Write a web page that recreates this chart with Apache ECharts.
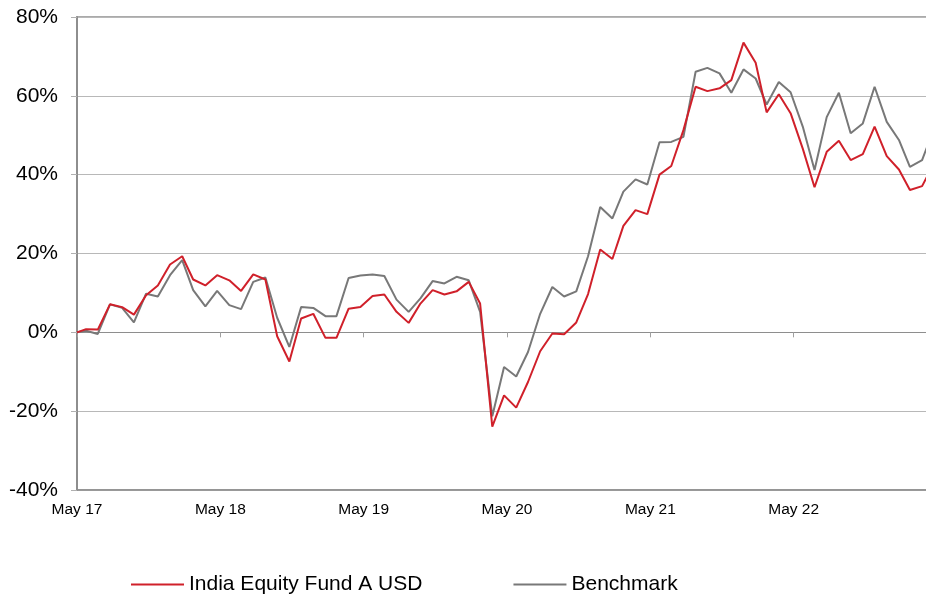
<!DOCTYPE html>
<html>
<head>
<meta charset="utf-8">
<script src="https://cdn.jsdelivr.net/npm/echarts@6/dist/echarts.min.js"></script>
<style>html,body{margin:0;padding:0;background:#fff}#c{width:926px;height:594px}</style>
</head>
<body>
<div id="c"></div>
<script>
var dates = ['2017-05-08',
'2017-05-31','2017-06-30','2017-07-31','2017-08-31','2017-09-30','2017-10-31','2017-11-30','2017-12-31',
'2018-01-31','2018-02-28','2018-03-31','2018-04-30','2018-05-31','2018-06-30','2018-07-31','2018-08-31','2018-09-30','2018-10-31','2018-11-30','2018-12-31',
'2019-01-31','2019-02-28','2019-03-31','2019-04-30','2019-05-31','2019-06-30','2019-07-31','2019-08-31','2019-09-30','2019-10-31','2019-11-30','2019-12-31',
'2020-01-31','2020-02-29','2020-03-31','2020-04-30','2020-05-31','2020-06-30','2020-07-31','2020-08-31','2020-09-30','2020-10-31','2020-11-30','2020-12-31',
'2021-01-31','2021-02-28','2021-03-31','2021-04-30','2021-05-31','2021-06-30','2021-07-31','2021-08-31','2021-09-30','2021-10-31','2021-11-30','2021-12-31',
'2022-01-31','2022-02-28','2022-03-31','2022-04-30','2022-05-31','2022-06-30','2022-07-31','2022-08-31','2022-09-30','2022-10-31','2022-11-30','2022-12-31',
'2023-01-31','2023-02-28','2023-03-31','2023-04-30'];

var fund = [0, 0.8, 0.7, 7.1, 6.4, 4.5, 9.4, 11.9, 17.2, 19.3, 13.4, 11.9, 14.5, 13.2, 10.5, 14.7, 13.4, -1.0, -7.4, 3.5, 4.7, -1.4, -1.4, 6.0, 6.4, 9.2, 9.6, 5.2, 2.4, 7.3, 10.7, 9.6, 10.4, 12.8, 7.3, -23.9, -16.0, -19.1, -12.6, -4.8, -0.3, -0.5, 2.5, 9.7, 21.0, 18.6, 27.0, 31.0, 30.0, 40.0, 42.2, 51.3, 62.3, 61.2, 61.9, 64.0, 73.5, 68.4, 55.8, 60.4, 55.6, 46.6, 36.8, 45.8, 48.6, 43.7, 45.2, 52.2, 44.7, 41.3, 36.1, 37.1, 42.8];

var bench = [0, 0.4, -0.4, 7.1, 6.2, 2.5, 9.8, 9.1, 14.5, 18.3, 10.7, 6.6, 10.5, 6.9, 5.9, 12.8, 13.9, 3.7, -3.7, 6.4, 6.2, 4.1, 4.1, 13.8, 14.4, 14.7, 14.3, 8.3, 5.2, 8.6, 13.0, 12.4, 14.1, 13.2, 5.2, -21.3, -8.8, -11.2, -5.0, 4.7, 11.5, 9.1, 10.4, 19.3, 31.8, 28.9, 35.7, 38.8, 37.5, 48.2, 48.3, 49.6, 66.1, 67.1, 65.7, 60.8, 66.7, 64.4, 57.8, 63.5, 60.9, 52.2, 41.2, 54.6, 60.8, 50.5, 53.0, 62.3, 53.4, 48.8, 42.0, 43.7, 51.6];

var tickLabels = ['May 17','May 18','May 19','May 20','May 21','May 22'];
var axisStart = '2017-05-08';
var axisEnd = '2023-05-08';
var axisMonths = 72;
var seriesNames = ['India Equity Fund A USD', 'Benchmark'];

var FONT = "'Liberation Sans', Arial, sans-serif";
function ms(s){ var p = s.split('-'); return Date.UTC(+p[0], +p[1]-1, +p[2]); }
var t0 = ms(axisStart), msPerMonth = (ms(axisEnd) - t0) / axisMonths;
function monthPos(s){ return (ms(s) - t0) / msPerMonth; }
function pairs(vals){ return dates.map(function(d,i){ return [monthPos(d), vals[i]]; }); }

var chart = echarts.init(document.getElementById('c'));
chart.setOption({
  animation: false,
  backgroundColor: '#fff',
  grid: { left: 77, top: 17, width: 860, height: 473, outerBoundsMode: 'none', containLabel: false,
          show: true, borderColor: '#8e8e8e', borderWidth: 1.5, backgroundColor: 'transparent' },
  legend: {
    left: 126, top: 569,
    itemWidth: 53, itemHeight: 2, itemGap: 91,
    icon: 'rect',
    textStyle: { fontFamily: FONT, fontSize: 21, color: '#000' },
    data: seriesNames
  },
  xAxis: [{
    type: 'value',
    min: 0, max: axisMonths, interval: 12,
    axisLine: { show: true, onZero: false, lineStyle: { color: '#8e8e8e', width: 1.5 } },
    axisTick: { show: false },
    splitLine: { show: false },
    axisLabel: {
      margin: 12, showMaxLabel: false,
      fontFamily: FONT, fontSize: 15.5, color: '#000',
      formatter: function(v){ var i = Math.round(v / 12); return tickLabels[i] || ''; }
    }
  }, {
    type: 'value',
    min: 0, max: axisMonths, interval: 12,
    position: 'bottom',
    axisLine: { show: true, onZero: true, onZeroAxisIndex: 0, lineStyle: { color: '#8e8e8e', width: 1 } },
    axisTick: { show: true, length: 5, inside: false, lineStyle: { color: '#a0a0a0' } },
    axisLabel: { show: false },
    splitLine: { show: false }
  }],
  yAxis: {
    type: 'value',
    min: -40, max: 80, interval: 20,
    axisLine: { show: true, lineStyle: { color: '#8e8e8e', width: 2 } },
    axisTick: { show: true, length: 6, lineStyle: { color: '#b0b0b0' } },
    splitLine: { show: true, lineStyle: { color: '#b8b8b8', width: 1 } },
    axisLabel: { formatter: '{value}%', margin: 19, fontFamily: FONT, fontSize: 21, color: '#000' }
  },
  series: [{
    name: seriesNames[0], type: 'line', xAxisIndex: 0, data: pairs(fund),
    showSymbol: false, symbol: 'none', z: 3,
    lineStyle: { color: '#d0202a', width: 2 }, itemStyle: { color: '#d0202a' }
  }, {
    name: seriesNames[1], type: 'line', xAxisIndex: 0, data: pairs(bench),
    showSymbol: false, symbol: 'none', z: 2,
    lineStyle: { color: '#787878', width: 2 }, itemStyle: { color: '#787878' }
  }]
});
</script>
</body>
</html>
